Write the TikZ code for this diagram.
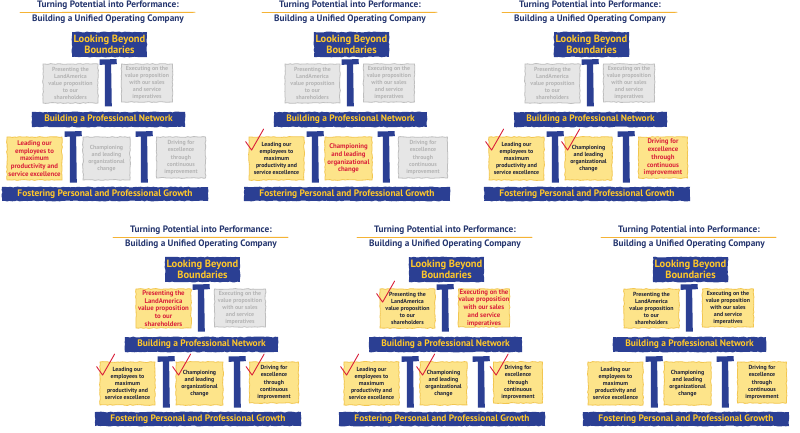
\documentclass[tikz,border=0pt]{standalone}
\usepackage{fontspec}
\setmainfont{PT Sans}
\usetikzlibrary{decorations.pathmorphing,calc}
\definecolor{bbar}{HTML}{2B3F93}
\definecolor{ytext}{HTML}{FFC72A}
\definecolor{navy}{HTML}{24356E}
\definecolor{uline}{HTML}{F5B335}
\definecolor{yfill}{HTML}{FDE48A}
\definecolor{yline}{HTML}{F2C650}
\definecolor{gfill}{HTML}{E6E6E6}
\definecolor{gline}{HTML}{BEBEBE}
\definecolor{gtext}{HTML}{B4B4B4}
\definecolor{redtext}{HTML}{D9203A}
\definecolor{darktext}{HTML}{1E2238}
\pgfmathsetseed{4242}
\tikzset{
  rough/.style={decorate, decoration={random steps, segment length=2.5pt, amplitude=0.45pt}},
  titletext/.style={font=\bfseries\fontsize{9.3}{10}\selectfont, text=navy, inner sep=0pt},
  underl/.style={draw=uline, line width=0.9pt, line cap=round},
  topbox/.style={fill=bbar, rough, text=ytext, align=center, inner sep=0pt,
    font=\bfseries\fontsize{10.5}{11.5}\selectfont, minimum width=75pt, minimum height=25pt},
  barbox/.style={fill=bbar, rough, text=ytext, inner sep=0pt,
    font=\bfseries\fontsize{9.4}{10}\selectfont},
  boxbase/.style={draw, line width=0.8pt, rough, align=center, inner sep=0pt},
  stgrey/.style={boxbase, fill=gfill, draw=gline, text=gtext, font=\bfseries\fontsize{5.9}{7.1}\selectfont},
  stred/.style={boxbase, fill=yfill, draw=yline, text=redtext, font=\bfseries\fontsize{6.8}{7.8}\selectfont},
  stcheck/.style={boxbase, fill=yfill, draw=yline, text=darktext, font=\bfseries\fontsize{5.9}{7.1}\selectfont},
  stplain/.style={stcheck},
  chkline/.style={draw=redtext, line width=0.9pt, line cap=round, line join=round},
  tee/.pic={\fill[bbar] (-8.5,0) -- (8.6,-0.4) -- (8.8,4.6) -- (3.1,5) -- (3.8,#1) -- (-3.2,#1) -- (-3.2,5.2) -- (-8.3,5.3) -- cycle;}
}
\newcommand{\mypanel}[8]{%
\begin{scope}[shift={(#2,#3)}]
  \node[titletext] (#1-t1) at (108,5.5) {Turning Potential into Performance:};
  \coordinate (#1-u1) at (20,12.5);
  \coordinate (#1-u2) at (195,12.3);
  \draw[underl] (#1-u1) -- (#1-u2);
  \node[titletext] (#1-t2) at (108,19.5) {Building a Unified Operating Company};
  \node[topbox] (#1-top) at (109.5,44.5) {Looking Beyond\\Boundaries};
  \pic at (108,59.5) {tee=47};
  \node[#4, minimum width=55pt, minimum height=39pt] (#1-b1) at (70.5,83.5)
    {Presenting the\\LandAmerica\\value proposition\\to our\\shareholders};
  \node[#5, minimum width=51pt, minimum height=38pt] (#1-b2) at (147,83)
    {Executing on the\\value proposition\\with our sales\\and service\\imperatives};
  \node[barbox, minimum width=153pt, minimum height=15pt] (#1-mid) at (108.5,119.5)
    {Building a Professional Network};
  \pic at (73,131.5) {tee=51};
  \pic at (144,131.5) {tee=51};
  \node[#6, minimum width=55pt, minimum height=43pt] (#1-b3) at (34.5,158.5)
    {Leading our\\employees to\\maximum\\productivity and\\service excellence};
  \node[#7, minimum width=47pt, minimum height=43pt] (#1-b4) at (106.5,158.5)
    {Championing\\and leading\\organizational\\change};
  \node[#8, minimum width=49pt, minimum height=41pt] (#1-b5) at (181,157.5)
    {Driving for\\excellence\\through\\continuous\\improvement};
  \node[barbox, minimum width=206pt, minimum height=14pt] (#1-bot) at (105,194)
    {Fostering Personal and Professional Growth};
\end{scope}}
\newcommand{\chk}[1]{\draw[chkline] ($(#1.north west)+(-3,5)$) -- ++(6,8.5) -- ++(12,-21);}
\begin{document}
\begin{tikzpicture}[x=1pt, y=-1pt]
  \fill[white] (0,0) rectangle (800,433);
  \useasboundingbox (0,0) rectangle (800,433);
  \mypanel{pa}{0}{0}{stgrey}{stgrey}{stred}{stgrey}{stgrey}
  \mypanel{pb}{242}{0}{stgrey}{stgrey}{stcheck}{stred}{stgrey}
  \mypanel{pc}{482}{0}{stgrey}{stgrey}{stcheck}{stcheck}{stred}
  \mypanel{pd}{93}{225}{stred}{stgrey}{stcheck}{stcheck}{stcheck}
  \mypanel{pe}{337}{225}{stcheck}{stred}{stcheck}{stcheck}{stcheck}
  \mypanel{pf}{581}{225}{stplain}{stplain}{stplain}{stplain}{stplain}
  \chk{pb-b3}
  \chk{pc-b3} \chk{pc-b4}
  \chk{pd-b3} \chk{pd-b4} \chk{pd-b5}
  \chk{pe-b1} \chk{pe-b3} \chk{pe-b4} \chk{pe-b5}
\end{tikzpicture}
\end{document}
